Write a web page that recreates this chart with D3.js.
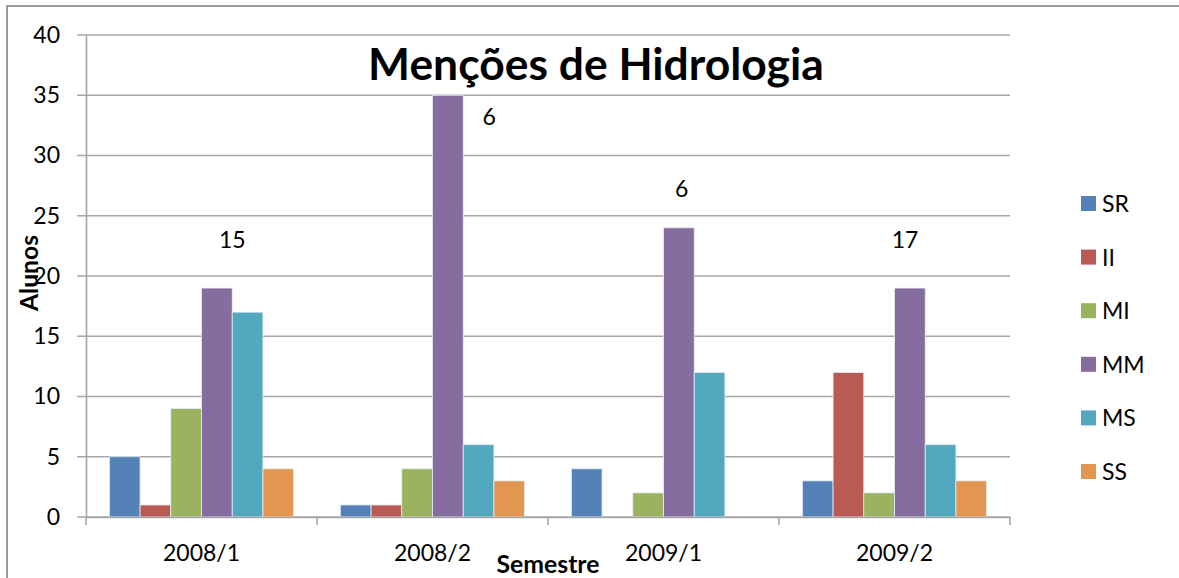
<!DOCTYPE html>
<html>
<head>
<meta charset="utf-8">
<script src="https://cdn.jsdelivr.net/npm/d3@7"></script>
<style>
  html, body { margin: 0; padding: 0; background: #fff; }
  svg text { font-family: Lato, "Open Sans", sans-serif; fill: #000; }
</style>
</head>
<body>
<script>
// ---- data ----
const categories = ["2008/1", "2008/2", "2009/1", "2009/2"];
const seriesNames = ["SR", "II", "MI", "MM", "MS", "SS"];
const SR = [5, 1, 4, 3];
const II = [1, 1, 0, 12];
const MI = [9, 4, 2, 2];
const MM = [19, 35, 24, 19];
const MS = [17, 6, 12, 6];
const SS = [4, 3, 0, 3];
const seriesColors = ["#5482b8", "#ba5a54", "#9bb35f", "#856d9f", "#52a8be", "#e3964f"];
const yTicks = [0, 5, 10, 15, 20, 25, 30, 35, 40];
// free-standing number annotations: text, category, position inside group (0..1), y in data units
const noteText = ["15", "6", "6", "17"];
const noteCat = ["2008/1", "2008/2", "2009/1", "2009/2"];
const noteFrac = [0.633, 0.745, 0.579, 0.546];
const noteY = [23, 33.2, 27.2, 23];
const titleText = "Menções de Hidrologia";
const yTitle = "Alunos";
const xTitle = "Semestre";

const values = [SR, II, MI, MM, MS, SS];

// ---- layout ----
const W = 1179, H = 578;
const plot = { left: 86, right: 1010, top: 35, bottom: 517 };

const svg = d3.select("body").append("svg")
  .attr("width", W).attr("height", H);

// outer frame (top and left visible, right/bottom outside the picture)
svg.append("rect")
  .attr("x", 7).attr("y", 6)
  .attr("width", W + 20).attr("height", H + 20)
  .attr("fill", "#fff").attr("stroke", "#9a9a9a").attr("stroke-width", 2);

const x0 = d3.scaleBand().domain(categories).range([plot.left, plot.right]).padding(0);
const x1 = d3.scaleBand().domain(seriesNames).range([0, x0.bandwidth()])
  .paddingInner(0).paddingOuter(0.76);
const y = d3.scaleLinear().domain([0, 40]).range([plot.bottom, plot.top]);

// gridlines
svg.append("g").selectAll("line").data(yTicks).join("line")
  .attr("x1", plot.left - 9).attr("x2", plot.right)
  .attr("y1", d => y(d)).attr("y2", d => y(d))
  .attr("stroke", "#a6a6a6").attr("stroke-width", 1.6);

// y axis
const yAxis = svg.append("g").attr("transform", `translate(${plot.left},0)`)
  .call(d3.axisLeft(y).tickValues(yTicks).tickSize(0).tickPadding(26));
yAxis.select(".domain").attr("stroke", "#a6a6a6").attr("stroke-width", 1.6);
yAxis.selectAll("text").attr("font-size", 23).attr("font-family", "Lato").attr("fill", "#000");

// bars
const groups = svg.append("g").selectAll("g").data(categories).join("g")
  .attr("transform", d => `translate(${x0(d)},0)`);
groups.selectAll("rect")
  .data((c, ci) => seriesNames.map((s, si) => ({ s, v: values[si][ci], color: seriesColors[si] })))
  .join("rect")
  .attr("x", d => x1(d.s))
  .attr("width", x1.bandwidth())
  .attr("y", d => y(d.v))
  .attr("height", d => y(0) - y(d.v))
  .attr("fill", d => d.color)
  .attr("stroke", d => d.v > 0 ? "#e8eef5" : "none")
  .attr("stroke-width", 0.8);

// x axis
const xAxis = svg.append("g").attr("transform", `translate(0,${plot.bottom})`)
  .call(d3.axisBottom(x0).tickSize(0).tickPadding(28));
xAxis.select(".domain").attr("stroke", "#a6a6a6").attr("stroke-width", 1.6);
xAxis.selectAll("text").attr("font-size", 23).attr("font-family", "Lato").attr("fill", "#000");
// boundary tick marks
const bounds = categories.map(c => x0(c)).concat([x0(categories[categories.length - 1]) + x0.bandwidth()]);
svg.append("g").selectAll("line").data(bounds).join("line")
  .attr("x1", d => d).attr("x2", d => d)
  .attr("y1", plot.bottom).attr("y2", plot.bottom + 8)
  .attr("stroke", "#a6a6a6").attr("stroke-width", 1.6);

// annotations
svg.append("g").selectAll("text").data(noteText).join("text")
  .attr("x", (d, i) => x0(noteCat[i]) + noteFrac[i] * x0.bandwidth())
  .attr("y", (d, i) => y(noteY[i]))
  .attr("dy", "0.35em")
  .attr("text-anchor", "middle")
  .attr("font-size", 23)
  .text(d => d);

// helper to fit text width
function fit(sel, target) {
  const w = sel.node().getComputedTextLength();
  const fs = parseFloat(sel.attr("font-size"));
  sel.attr("font-size", fs * target / w);
}

// title
const t = svg.append("text")
  .attr("x", 596).attr("y", 80)
  .attr("text-anchor", "middle")
  .attr("font-weight", "bold")
  .attr("font-size", 42)
  .text(titleText);
fit(t, 456);

// axis titles
const yt = svg.append("text")
  .attr("transform", "translate(38,273) rotate(-90)")
  .attr("text-anchor", "middle")
  .attr("font-weight", "bold")
  .attr("font-size", 22)
  .text(yTitle);
fit(yt, 76);

const xt = svg.append("text")
  .attr("x", 548).attr("y", 573)
  .attr("text-anchor", "middle")
  .attr("font-weight", "bold")
  .attr("font-size", 22)
  .text(xTitle);
fit(xt, 103);

// legend
const legend = svg.append("g").selectAll("g").data(seriesNames).join("g")
  .attr("transform", (d, i) => `translate(1081,${204 + i * 53.6})`);
legend.append("rect")
  .attr("x", 0).attr("y", -8).attr("width", 15).attr("height", 15)
  .attr("fill", (d, i) => seriesColors[i]);
legend.append("text")
  .attr("x", 21).attr("y", 0).attr("dy", "0.35em")
  .attr("font-size", 23)
  .text(d => d);
</script>
</body>
</html>
